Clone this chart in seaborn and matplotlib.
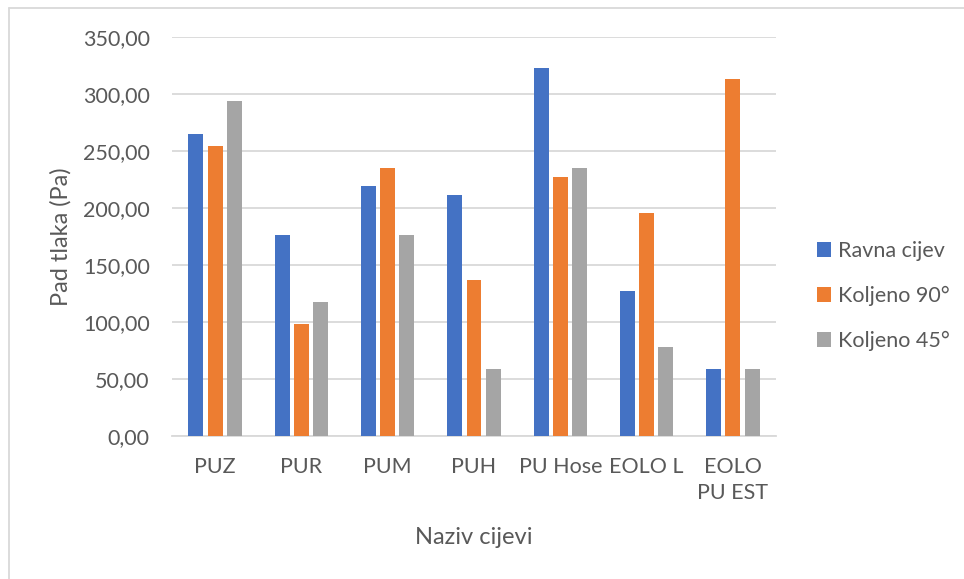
import matplotlib
matplotlib.use("Agg")
import matplotlib.pyplot as plt
from matplotlib.lines import Line2D
from matplotlib.patches import Patch
from matplotlib.ticker import FuncFormatter
import seaborn as sns
import pandas as pd

# Pressure drop per hose type and fitting
categories = ["PUZ", "PUR", "PUM", "PUH", "PU Hose", "EOLO L", "EOLO\nPU EST"]
series_names = ["Ravna cijev", "Koljeno 90°", "Koljeno 45°"]
ravna_cijev = [264.5, 176.0, 219.5, 211.5, 323.0, 127.0, 58.7]
koljeno_90 = [254.5, 98.0, 235.0, 137.0, 227.0, 196.0, 313.0]
koljeno_45 = [294.0, 117.5, 176.0, 58.7, 235.0, 78.0, 58.7]
y_ticks = [0, 50, 100, 150, 200, 250, 300, 350]

colors = ["#4472C4", "#ED7D31", "#A5A5A5"]
text_color = "#595959"

df = pd.DataFrame({
    "cijev": categories * 3,
    "serija": sum([[s] * len(categories) for s in series_names], []),
    "pad": ravna_cijev + koljeno_90 + koljeno_45,
})

sns.set_theme(style="white")
plt.rcParams["font.family"] = ["Lato", "DejaVu Sans"]

W, H = 964, 579
fig = plt.figure(figsize=(W / 100, H / 100), dpi=100)
ax = fig.add_axes([172 / W, 1 - 436 / H, (776 - 172) / W, (436 - 37) / H])

sns.barplot(data=df, x="cijev", y="pad", hue="serija", order=categories,
            hue_order=series_names, palette=colors, width=0.667, gap=0.22,
            saturation=1, linewidth=0, ax=ax, legend=False, zorder=3)

ax.set_ylim(0, 350)
ax.set_xlim(-0.5, len(categories) - 0.5)
ax.set_yticks(y_ticks)
ax.yaxis.set_major_formatter(FuncFormatter(lambda v, p: f"{v:.2f}".replace(".", ",")))
ax.grid(axis="y", color="#D9D9D9", linewidth=1.3, zorder=0)
for s in ["top", "right", "left"]:
    ax.spines[s].set_visible(False)
ax.spines["bottom"].set_color("#D9D9D9")
ax.spines["bottom"].set_linewidth(1.3)
ax.tick_params(axis="both", length=0, labelsize=15.5, colors=text_color)
ax.tick_params(axis="y", pad=16)
ax.tick_params(axis="x", pad=15)
for lbl in ax.get_xticklabels():
    lbl.set_verticalalignment("top")
    lbl.set_multialignment("center")
    lbl.set_linespacing(1.4)

ax.set_xlabel("Naziv cijevi", fontsize=17, color=text_color, labelpad=17)
ax.set_ylabel("Pad tlaka (Pa)", fontsize=17, color=text_color, labelpad=8)

handles = [Patch(facecolor=c, edgecolor="none") for c in colors]
fig.legend(handles, series_names, loc="center left",
           bbox_to_anchor=(798 / W, 1 - 296 / H), frameon=False,
           fontsize=15.5, labelcolor=text_color, handlelength=0.65,
           handleheight=0.65, handletextpad=0.3, labelspacing=1.15)

# chart frame
fig.add_artist(Line2D([9 / W, 1], [1 - 7.5 / H] * 2, color="#D9D9D9", linewidth=1.3))
fig.add_artist(Line2D([9 / W] * 2, [0, 1 - 7.5 / H], color="#D9D9D9", linewidth=1.3))

fig.savefig("out.png", dpi=100, facecolor="white")
